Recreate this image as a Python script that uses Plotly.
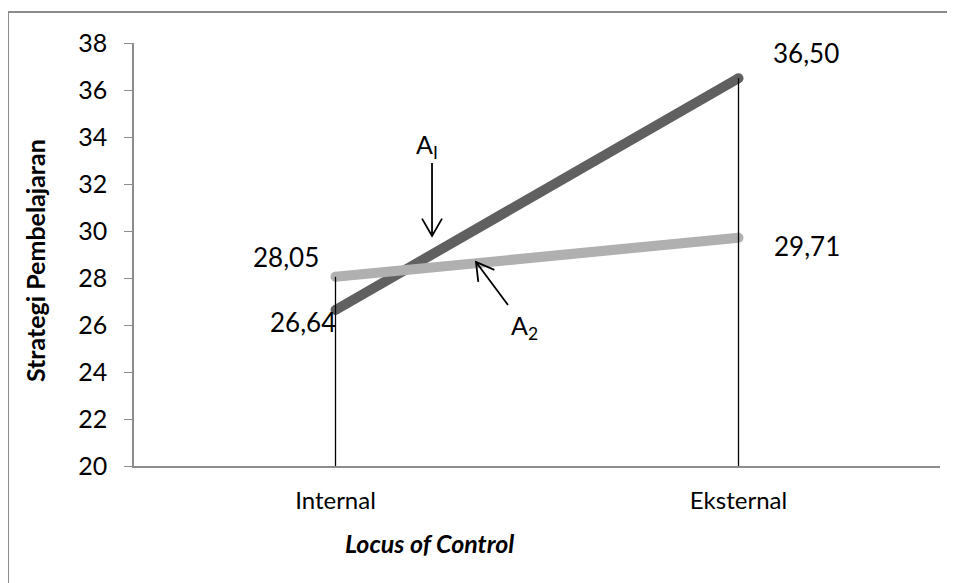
import math
import plotly.graph_objects as go

categories = ["Internal", "Eksternal"]
a1_values = [26.64, 36.50]
a2_values = [28.05, 29.71]
a1_labels = ["26,64", "36,50"]
a2_labels = ["28,05", "29,71"]
y_ticks = [20, 22, 24, 26, 28, 30, 32, 34, 36, 38]

FONT = "Lato"
fig = go.Figure()

fig.add_trace(go.Scatter(
    x=categories, y=a1_values, mode="lines+markers",
    line=dict(color="#606060", width=10),
    marker=dict(color="#606060", size=10),
    showlegend=False, hoverinfo="skip"))
fig.add_trace(go.Scatter(
    x=categories, y=a2_values, mode="lines+markers",
    line=dict(color="#b0b0b0", width=10),
    marker=dict(color="#b0b0b0", size=10),
    showlegend=False, hoverinfo="skip"))

# drop lines from axis to highest point of each category
for i, c in enumerate(categories):
    top = max(a1_values[i], a2_values[i])
    fig.add_trace(go.Scatter(
        x=[c, c], y=[20, top], mode="lines",
        line=dict(color="black", width=1.3),
        showlegend=False, hoverinfo="skip"))

ann = []
shifts_a1 = [(-33, -12), (67, 25)]
shifts_a2 = [(-50, 20), (68, -8)]
for i, c in enumerate(categories):
    ann.append(dict(x=c, y=a1_values[i], text=a1_labels[i], showarrow=False,
                    xshift=shifts_a1[i][0], yshift=shifts_a1[i][1],
                    font=dict(family=FONT, size=26, color="black")))
    ann.append(dict(x=c, y=a2_values[i], text=a2_labels[i], showarrow=False,
                    xshift=shifts_a2[i][0], yshift=shifts_a2[i][1],
                    font=dict(family=FONT, size=26, color="black")))

ann.append(dict(x=0.228, y=33.6, xref="x", yref="y", text="A<sub>I</sub>", showarrow=False,
                xanchor="center", yanchor="middle",
                font=dict(family=FONT, size=25, color="black")))
ann.append(dict(x=0.47, y=25.9, xref="x", yref="y", text="A<sub>2</sub>", showarrow=False,
                xanchor="center", yanchor="middle",
                font=dict(family=FONT, size=25, color="black")))

# x axis title
ann.append(dict(x=0.367, y=-0.182, xref="paper", yref="paper", text="<b><i>Locus of Control</i></b>",
                xanchor="center", yanchor="middle",
                showarrow=False, font=dict(family=FONT, size=25, color="black")))
# y axis title
ann.append(dict(x=-0.1225, y=0.485, xref="paper", yref="paper", text="<b>Strategi Pembelajaran</b>",
                xanchor="center", yanchor="middle",
                textangle=-90, showarrow=False, font=dict(family=FONT, size=25, color="black")))


def arrow_shape(xa, ya, tx, ty, head=20, half_angle=30):
    """Open-V arrow anchored at (xa, ya) in data coords; tail offset (tx, ty) in pixels (y up)."""
    L = math.hypot(tx, ty)
    ux, uy = tx / L, ty / L
    ang = math.atan2(uy, ux)
    arms = []
    for s in (1, -1):
        a = ang + s * math.radians(half_angle)
        arms.append((head * math.cos(a), head * math.sin(a)))
    path = (f"M {tx:.1f},{ty:.1f} L 0,0 "
            f"M {arms[0][0]:.1f},{arms[0][1]:.1f} L 0,0 L {arms[1][0]:.1f},{arms[1][1]:.1f}")
    return dict(type="path", xref="x", yref="y", xsizemode="pixel", ysizemode="pixel",
                xanchor=xa, yanchor=ya, path=path,
                line=dict(color="black", width=1.8))


shapes = [
    dict(type="line", xref="paper", yref="paper", x0=-0.1563, x1=1.05, y0=1.0733, y1=1.0733,
         line=dict(color="#8c8c8c", width=2)),
    dict(type="line", xref="paper", yref="paper", x0=-0.1563, x1=-0.1563, y0=1.0733, y1=-0.35,
         line=dict(color="#8c8c8c", width=2)),
    arrow_shape(0.2395, 29.79, 0, 73),
    arrow_shape(0.3486, 28.68, 32, -43),
]

fig.update_layout(
    width=947, height=575,
    margin=dict(l=126, r=15, t=35, b=117),
    paper_bgcolor="white", plot_bgcolor="white",
    annotations=ann,
    shapes=shapes,
    xaxis=dict(type="category", range=[-0.5, 1.5], showgrid=False, zeroline=False,
               showline=True, linecolor="#8c8c8c", linewidth=1.5, ticks="",
               tickfont=dict(family=FONT, size=24, color="black"), ticklabelstandoff=12),
    yaxis=dict(range=[20, 38], tickvals=y_ticks, showgrid=False, zeroline=False,
               showline=True, linecolor="#8c8c8c", linewidth=1.5, ticks="outside",
               ticklen=8, tickcolor="#8c8c8c",
               tickfont=dict(family=FONT, size=25, color="black"), ticklabelstandoff=12),
)

fig.write_html("out.html")
